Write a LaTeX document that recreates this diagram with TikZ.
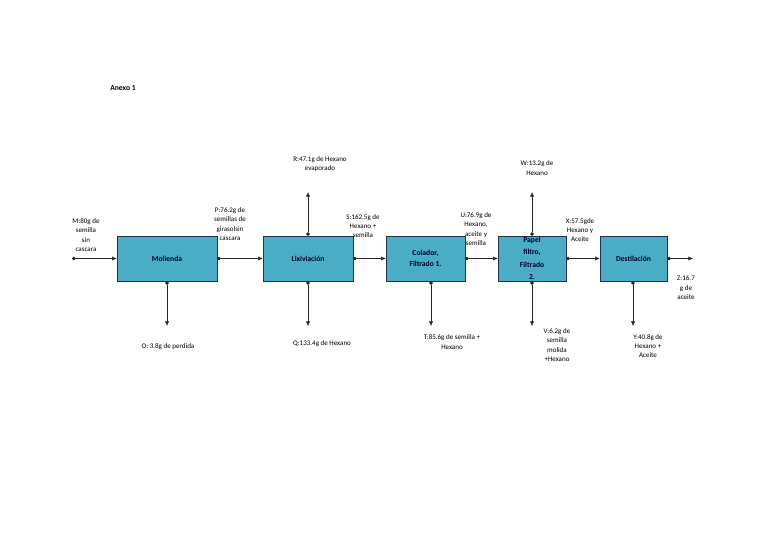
\documentclass[tikz,border=0pt]{standalone}
\usepackage{fontspec}
\setmainfont{Carlito}
\usetikzlibrary{arrows.meta}
\definecolor{procfill}{RGB}{75,172,198}
\definecolor{procdraw}{RGB}{31,50,80}
\begin{document}
\begin{tikzpicture}[x=0.03cm,y=-0.03cm,every node/.style={font=\fontsize{6}{8}\selectfont,align=center,inner sep=1pt},box/.style={draw=procdraw,fill=procfill,font=\fontsize{6.5}{9}\bfseries\selectfont,text=black!85!blue,minimum height=1.35cm,inner sep=0pt},arr/.style={{Circle[length=3pt]}-{Latex[length=4pt,width=3.5pt]},draw=black!85}]
\useasboundingbox (0,0) rectangle (768,543);
\node[font=\fontsize{6.5}{8}\bfseries\selectfont] (anexo) at (123,88) {Anexo 1};
% process boxes
\node[box,minimum width=3cm] (mol) at (167,258.5) {Molienda};
\node[box,minimum width=2.7cm] (lix) at (308,258.5) {Lixiviación};
\node[box,minimum width=2.37cm] (col) at (425.5,258.5) {Colador,\\Filtrado 1.};
\node[box,minimum width=2.04cm,font=\fontsize{6.5}{10.5}\bfseries\selectfont] (pap) at (532,258.5) {Papel\\filtro,\\Filtrado\\2.};
\node[box,minimum width=2.01cm] (des) at (633.5,258.5) {Destilación};
% free ends of the streams
\coordinate (mIn) at (72,258.5);
\coordinate (oOut) at (167,326);
\coordinate (rOut) at (308,192);
\coordinate (qOut) at (308,326);
\coordinate (tOut) at (431,326);
\coordinate (wOut) at (532,192);
\coordinate (vOut) at (532,326);
\coordinate (yOut) at (633,326);
\coordinate (zOut) at (693,258.5);
% stream labels
\node (m) at (86,235) {M:80g de\\semilla\\sin\\cascara};
\node (p) at (230,224) {P:76.2g de\\semillas de\\girasolsin\\cascara};
\node (r) at (320,164) {R:47.1g de Hexano\\evaporado};
\node (s) at (363,226) {S:162.5g de\\Hexano +\\semilla};
\node (u) at (476,229) {U:76.9g de\\Hexano,\\aceite y\\semilla};
\node (w) at (537,168) {W:13.2g de\\Hexano};
\node (x) at (580,230) {X:57.5gde\\Hexano y\\Aceite};
\node (z) at (686,288) {Z:16.7\\g de\\aceite};
\node (o) at (168,347) {O: 3.8g de perdida};
\node (q) at (322,344) {Q:133.4g de Hexano};
\node (t) at (452,342) {T:85.6g de semilla +\\Hexano};
\node (v) at (557,345) {V:6.2g de\\semilla\\molida\\+Hexano};
\node (y) at (648,346) {Y:40.8g de\\Hexano +\\Aceite};
% streams
\draw[arr] (mIn) -- (mol.west);
\draw[arr] (mol.east) -- (lix.west);
\draw[arr] (mol.south) -- (oOut);
\draw[arr] (lix.north) -- (rOut);
\draw[arr] (lix.south) -- (qOut);
\draw[arr] (lix.east) -- (col.west);
\draw[arr] (tOut |- col.south) -- (tOut);
\draw[arr] (col.east) -- (pap.west);
\draw[arr] (pap.north) -- (wOut);
\draw[arr] (pap.south) -- (vOut);
\draw[arr] (pap.east) -- (des.west);
\draw[arr] (yOut |- des.south) -- (yOut);
\draw[arr] (des.east) -- (zOut);
\end{tikzpicture}
\end{document}
